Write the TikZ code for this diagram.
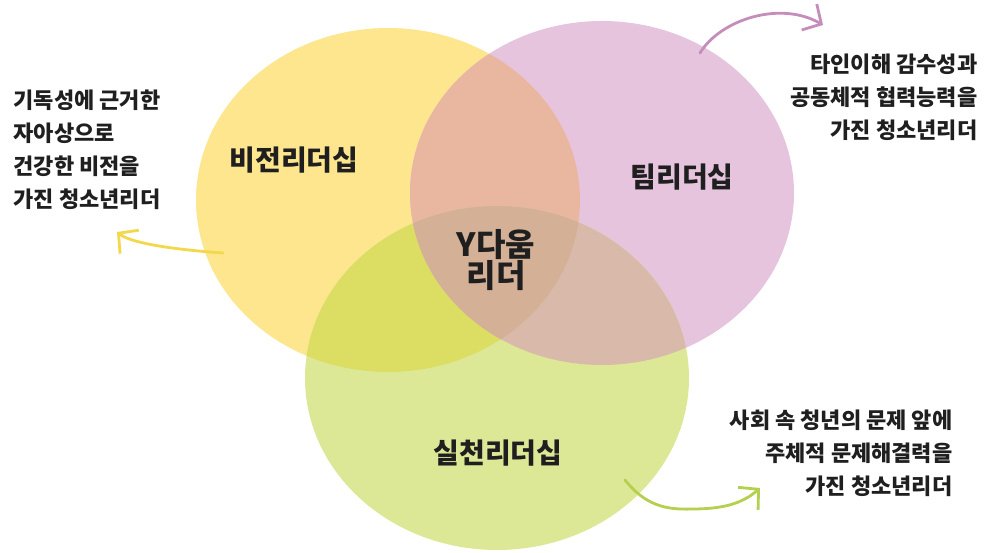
\documentclass[tikz,border=0pt]{standalone}
\usepackage{fontspec}
\newfontfamily\kr{Noto Sans CJK KR}
\usetikzlibrary{arrows.meta,positioning}
\usetikzlibrary{calc}

\definecolor{visfill}{RGB}{253,230,142}
\definecolor{teamfill}{RGB}{230,196,222}
\definecolor{actfill}{RGB}{221,232,150}
\definecolor{vtfill}{RGB}{233,183,160}
\definecolor{vafill}{RGB}{220,222,100}
\definecolor{tafill}{RGB}{217,185,170}
\definecolor{allfill}{RGB}{212,176,150}
\definecolor{visline}{RGB}{242,216,74}
\definecolor{teamline}{RGB}{197,141,185}
\definecolor{actline}{RGB}{181,207,78}

\tikzset{
  ring/.style={x radius=192pt, y radius=172pt},
  circname/.style={font=\kr\bfseries\fontsize{28}{30}\selectfont, text=black!88},
  desc/.style={font=\kr\bfseries\fontsize{22}{33}\selectfont, text=black!88},
  curlarrow/.style={line width=2.8pt, line cap=round, -{Straight Barb[length=14pt,width=30pt]}}
}

\begin{document}
\begin{tikzpicture}[x=1pt,y=-1pt]
\useasboundingbox (0,0) rectangle (989,553);

\coordinate (vis) at (388,200);
\coordinate (team) at (602,193);
\coordinate (act) at (497,378);

\fill[visfill] (vis) ellipse [ring];
\fill[teamfill] (team) ellipse [ring];
\fill[actfill] (act) ellipse [ring];

\begin{scope}
\clip (vis) ellipse [ring];
\fill[vtfill] (team) ellipse [ring];
\fill[vafill] (act) ellipse [ring];
\end{scope}

\begin{scope}
\clip (team) ellipse [ring];
\fill[tafill] (act) ellipse [ring];
\clip (vis) ellipse [ring];
\fill[allfill] (act) ellipse [ring];
\end{scope}

\node[circname] (visname) at (294,160) {비전리더십};
\node[circname] (teamname) at (682,177) {팀리더십};
\node[circname] (actname) at (498,453) {실천리더십};
\node[circname, font=\kr\bfseries\fontsize{32}{28}\selectfont, align=center] (core) at (496,260) {Y다움\\리더};

\node[desc, anchor=west, align=left] (visdesc) at (10,150) {기독성에 근거한\\자아상으로\\건강한 비전을\\가진 청소년리더};
\node[desc, anchor=east, align=right] (teamdesc) at (981,97) {타인이해 감수성과\\공동체적 협력능력을\\가진 청소년리더};
\node[desc, anchor=east, align=right] (actdesc) at (956,453) {사회 속 청년의 문제 앞에\\주체적 문제해결력을\\가진 청소년리더};

\coordinate (visfrom) at (223,253);
\coordinate (visto) at (117,232);
\coordinate (teamfrom) at (700,53);
\coordinate (teamto) at (823,25);
\coordinate (actfrom) at (625,480);
\coordinate (actto) at (760,488);

\draw[curlarrow, visline] (visfrom) .. controls (180,250) and (132,244) .. (visto);
\draw[curlarrow, teamline] (teamfrom) .. controls (720,20) and (780,0) .. (teamto);
\draw[curlarrow, actline] (actfrom) .. controls (645,505) and (665,510) .. (692,509) .. controls (722,509) and (742,504) .. (actto);
\end{tikzpicture}
\end{document}
